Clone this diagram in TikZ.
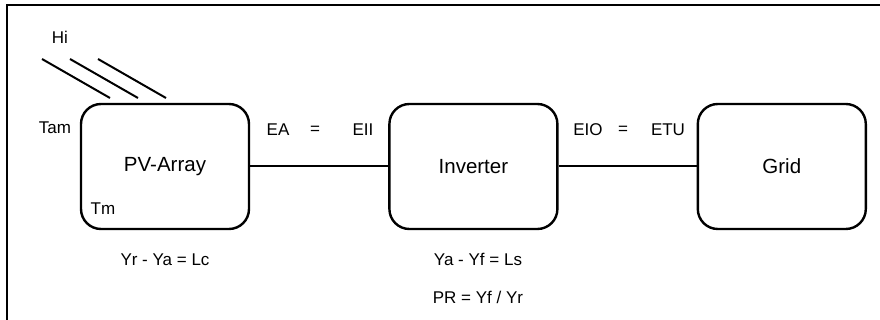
\documentclass[tikz,border=0pt]{standalone}
\usepackage{fontspec}
\setmainfont{Liberation Sans}
\usetikzlibrary{positioning}
\begin{document}
\begin{tikzpicture}[x = 1pt, y = -1pt,
        block/.style = {draw, line width = 2.4pt, rounded corners = 20pt,
            minimum width = 168pt, minimum height = 125pt,
            font = \fontsize{20.5}{24}\selectfont},
        lbl/.style = {inner sep = 0pt, font = \fontsize{17}{20}\selectfont},
        link/.style = {line width = 2pt}]
    \useasboundingbox (0,0) rectangle (880,320);
    \draw[line width = 1.5pt] (7,320) -- (7,5) -- (880,5);

    \node[block] (pv) at (165,166.5) {PV-Array};
    \node[block, right = 138pt of pv] (inv) {Inverter};
    \node[block, right = 138pt of inv] (grid) {Grid};

    \draw[link] (pv) -- (inv);
    \draw[link] (inv) -- (grid);

    % irradiance on the array
    \node[lbl] (hi) at (60,37) {Hi};
    \foreach \dx in {0, 28, 56}
        \draw[link] (42+\dx,59) -- (110+\dx,98);

    \node[lbl] (tam) at (55,128) {Tam};
    \node[lbl] (tm) at (103,209) {Tm};

    \node[lbl] (ea) at (278,130) {EA};
    \node[lbl] (eq1) at (315,130) {=};
    \node[lbl] (eii) at (363,130) {EII};
    \node[lbl] (eio) at (588,130) {EIO};
    \node[lbl] (eq2) at (623,130) {=};
    \node[lbl] (etu) at (668,130) {ETU};

    % losses and ratio
    \node[lbl] (lc) at (165,260) {Yr - Ya = Lc};
    \node[lbl] (ls) at (478,259) {Ya - Yf = Ls};
    \node[lbl] (pr) at (478,297) {PR = Yf / Yr};
\end{tikzpicture}
\end{document}
